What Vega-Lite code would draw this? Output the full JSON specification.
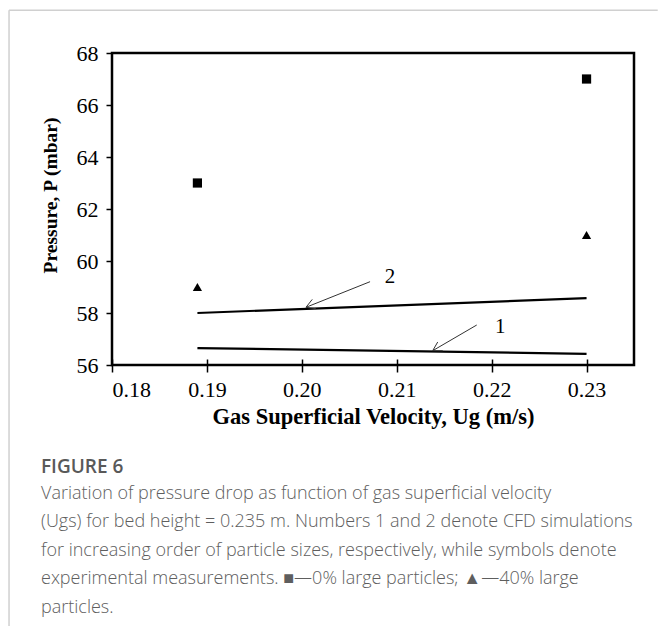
{
  "$schema": "https://vega.github.io/schema/vega-lite/v6.json",
  "width": 522,
  "height": 312,
  "autosize": "none",
  "padding": {"left": 112, "top": 53, "right": 24, "bottom": 261},
  "background": "white",
  "config": {
    "view": {"stroke": "black", "strokeWidth": 2.5},
    "axis": {
      "grid": false,
      "domain": false,
      "labelFont": "Liberation Serif",
      "labelFontSize": 22,
      "labelColor": "black",
      "tickColor": "black",
      "tickWidth": 1.5,
      "titleFont": "Liberation Serif",
      "titleFontWeight": "bold",
      "titleColor": "black"
    }
  },
  "title": {
    "text": "FIGURE 6",
    "subtitle": [
      "Variation of pressure drop as function of gas superficial velocity",
      "(Ugs) for bed height = 0.235 m. Numbers 1 and 2 denote CFD simulations",
      "for increasing order of particle sizes, respectively, while symbols denote",
      "experimental measurements. ■—0% large particles; ▲—40% large",
      "particles."
    ],
    "orient": "bottom",
    "anchor": "start",
    "frame": "group",
    "dx": -71,
    "offset": -169,
    "font": "Open Sans",
    "fontSize": 19,
    "fontWeight": 600,
    "color": "#595959",
    "subtitleFont": "Open Sans",
    "subtitleFontSize": 18,
    "subtitleFontWeight": 300,
    "subtitleColor": "#5e5e5e",
    "subtitleLineHeight": 28.5,
    "subtitlePadding": 8
  },
  "resolve": {"axis": {"x": "independent", "y": "independent"}},
  "layer": [
    {
      "data": {"values": [
        {"x": 0.16915, "y": 69.64, "x2": 0.16915, "y2": 45.96},
        {"x": 0.16915, "y": 69.64, "x2": 0.2375, "y2": 69.64}
      ]},
      "mark": {"type": "rule", "color": "#d0d0d0", "strokeWidth": 1.5, "clip": false},
      "encoding": {
        "x": {"field": "x", "type": "quantitative", "scale": {"domain": [0.18, 0.235], "nice": false, "zero": false},
          "axis": {"orient": "bottom", "values": [0.18, 0.19, 0.2, 0.21, 0.22, 0.23], "format": ".2f", "tickSize": 7, "labelPadding": 7, "title": "Gas Superficial Velocity, Ug (m/s)", "titleFontSize": 22.5, "titlePadding": 5}},
        "y": {"field": "y", "type": "quantitative", "scale": {"domain": [56, 68], "nice": false, "zero": false},
          "axis": {"orient": "left", "values": [56, 58, 60, 62, 64, 66, 68], "format": "d", "tickSize": 6, "labelPadding": 8, "title": "Pressure, P (mbar)", "titleFontSize": 19.5, "titleAngle": -90, "titleBaseline": "middle", "titleX": -62, "titleY": 142, "titleAlign": "center"}},
        "x2": {"field": "x2"},
        "y2": {"field": "y2"}
      }
    },
    {
      "data": {"values": [
        {"series": "2", "x": 0.189, "y": 58.0},
        {"series": "2", "x": 0.23, "y": 58.57},
        {"series": "1", "x": 0.189, "y": 56.65},
        {"series": "1", "x": 0.23, "y": 56.43}
      ]},
      "mark": {"type": "line", "color": "black", "strokeWidth": 2.2},
      "encoding": {
        "x": {"field": "x", "type": "quantitative",
          "axis": {"orient": "bottom", "values": [0.18, 0.19, 0.2, 0.21, 0.22, 0.23], "tickSize": -6, "labels": false, "title": null}},
        "y": {"field": "y", "type": "quantitative", "axis": null},
        "detail": {"field": "series"}
      }
    },
    {
      "data": {"values": [
        {"x": 0.20044, "y": 58.219, "x2": 0.20719, "y2": 59.204},
        {"x": 0.20044, "y": 58.219, "x2": 0.20149, "y2": 58.165},
        {"x": 0.20044, "y": 58.219, "x2": 0.2011, "y2": 58.523},
        {"x": 0.21379, "y": 56.55, "x2": 0.21843, "y2": 57.538},
        {"x": 0.21379, "y": 56.55, "x2": 0.21485, "y2": 56.548},
        {"x": 0.21379, "y": 56.55, "x2": 0.21432, "y2": 56.885}
      ]},
      "mark": {"type": "rule", "color": "#333333", "strokeWidth": 1},
      "encoding": {
        "x": {"field": "x", "type": "quantitative", "axis": null},
        "y": {"field": "y", "type": "quantitative", "axis": null},
        "x2": {"field": "x2"},
        "y2": {"field": "y2"}
      }
    },
    {
      "data": {"values": [
        {"label": "2", "x": 0.2093, "y": 59.4},
        {"label": "1", "x": 0.2209, "y": 57.45}
      ]},
      "mark": {"type": "text", "font": "Liberation Serif", "fontSize": 21, "color": "black", "align": "center", "baseline": "middle"},
      "encoding": {
        "x": {"field": "x", "type": "quantitative", "axis": null},
        "y": {"field": "y", "type": "quantitative", "axis": null},
        "text": {"field": "label"}
      }
    },
    {
      "data": {"values": [
        {"group": "0% large particles", "x": 0.189, "y": 63},
        {"group": "0% large particles", "x": 0.23, "y": 67},
        {"group": "40% large particles", "x": 0.189, "y": 59},
        {"group": "40% large particles", "x": 0.23, "y": 61}
      ]},
      "mark": {"type": "point", "filled": true, "color": "black", "opacity": 1, "size": 85},
      "encoding": {
        "x": {"field": "x", "type": "quantitative", "axis": null},
        "y": {"field": "y", "type": "quantitative", "axis": null},
        "shape": {"field": "group", "type": "nominal", "scale": {"domain": ["0% large particles", "40% large particles"], "range": ["square", "triangle-up"]}, "legend": null}
      }
    }
  ]
}
